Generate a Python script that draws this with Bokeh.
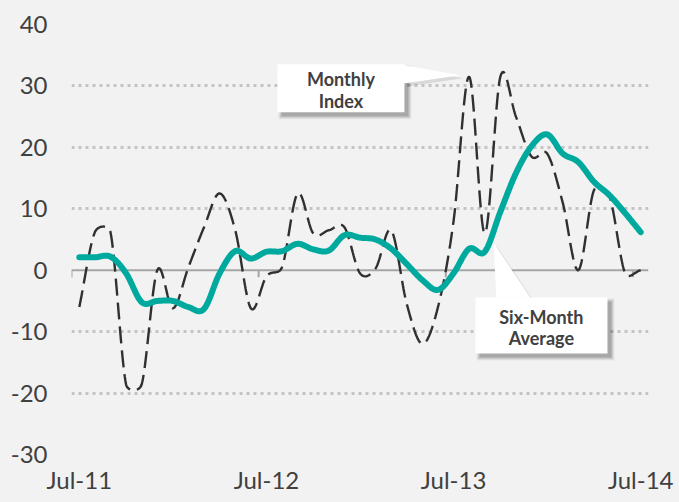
import numpy as np
from bokeh.plotting import figure
from bokeh.models import Range1d, FixedTicker, Span
from bokeh.core.properties import value
from bokeh.embed import file_html
from bokeh.resources import INLINE

# ---------------- data ----------------
month_labels = [
    "Jul-11", "Aug-11", "Sep-11", "Oct-11", "Nov-11", "Dec-11",
    "Jan-12", "Feb-12", "Mar-12", "Apr-12", "May-12", "Jun-12",
    "Jul-12", "Aug-12", "Sep-12", "Oct-12", "Nov-12", "Dec-12",
    "Jan-13", "Feb-13", "Mar-13", "Apr-13", "May-13", "Jun-13",
    "Jul-13", "Aug-13", "Sep-13", "Oct-13", "Nov-13", "Dec-13",
    "Jan-14", "Feb-14", "Mar-14", "Apr-14", "May-14", "Jun-14",
    "Jul-14",
]
monthly_index = [
    -6.0, 6.2, 6.2, -18.6, -18.6, 0.0,
    -6.2, 0.5, 7.0, 12.5, 6.5, -6.2,
    -1.0, 0.5, 12.5, 6.0, 6.5, 7.0,
    -0.5, 0.3, 6.5, -5.5, -12.0, -6.0,
    8.0, 31.5, 6.0, 31.5, 25.0, 18.5,
    19.0, 11.0, 0.0, 13.0, 12.0, -0.5,
    0.0,
]
six_month_avg = [
    2.1, 2.1, 2.2, -0.5, -5.2, -5.0,
    -5.0, -6.0, -6.3, -0.5, 3.1, 1.9,
    3.0, 3.1, 4.3, 3.4, 3.2, 5.7,
    5.3, 5.0, 3.5, 1.0, -1.6, -3.2,
    -0.5, 3.5, 3.0, 9.5, 15.8, 20.2,
    22.1, 19.0, 17.6, 14.4, 12.2, 9.3,
    6.2,
]
y_ticks = [-30, -20, -10, 0, 10, 20, 30, 40]
x_tick_labels = ["Jul-11", "Jul-12", "Jul-13", "Jul-14"]

# ---------------- helpers ----------------
x_idx = list(range(len(month_labels)))
x_ticks = [month_labels.index(l) for l in x_tick_labels]

PX_PER_X = 577 / 37.0   # frame pixels per x unit
PX_PER_Y = 430 / 70.0   # frame pixels per y unit


def smooth(xs, ys, n=24):
    """Excel-like smoothed line: Bezier with tension 1/6, control arms capped
    at half the adjacent segment length (measured on screen)."""
    P = np.column_stack([np.asarray(xs, float) * PX_PER_X,
                         np.asarray(ys, float) * PX_PER_Y])
    N = len(P)
    cout = np.zeros_like(P)
    cin = np.zeros_like(P)
    for i in range(N):
        a = P[max(i - 1, 0)]
        b = P[min(i + 1, N - 1)]
        T = b - a
        L = np.hypot(*T)
        if L == 0:
            cout[i] = cin[i] = P[i]
            continue
        d_prev = np.hypot(*(P[i] - a)) if i > 0 else 0.0
        d_next = np.hypot(*(b - P[i])) if i < N - 1 else 0.0
        u = T / L
        arm = L / 6
        if i == 0 or i == N - 1:
            arm = L / 3
        cout[i] = P[i] + u * min(arm, d_next / 2)
        cin[i] = P[i] - u * min(arm, d_prev / 2)
    t = np.linspace(0, 1, n, endpoint=False)[:, None]
    pts = []
    for i in range(N - 1):
        p0, p1, p2, p3 = P[i], cout[i], cin[i + 1], P[i + 1]
        seg = ((1 - t) ** 3) * p0 + 3 * ((1 - t) ** 2) * t * p1 \
            + 3 * (1 - t) * t ** 2 * p2 + t ** 3 * p3
        pts.append(seg)
    pts.append(P[-1][None, :])
    pts = np.vstack(pts)
    return list(pts[:, 0] / PX_PER_X), list(pts[:, 1] / PX_PER_Y)


FONT = "Lato"
TXT = "#404040"
BG = "#f2f2f2"

p = figure(width=679, height=502, output_backend="svg", toolbar_location=None,
           x_range=Range1d(-0.5, len(x_idx) - 0.5), y_range=Range1d(-30, 40),
           background_fill_color=BG, border_fill_color=BG, outline_line_color=None)
p.min_border_left = 71
p.min_border_right = 31
p.min_border_top = 24
p.min_border_bottom = 48

# axes
p.yaxis.ticker = FixedTicker(ticks=y_ticks)
p.yaxis.major_label_overrides = {t: str(t) for t in y_ticks}
p.xaxis.ticker = FixedTicker(ticks=x_ticks)
p.xaxis.major_label_overrides = {t: l for t, l in zip(x_ticks, x_tick_labels)}
for ax in (p.xaxis[0], p.yaxis[0]):
    ax.axis_line_color = None
    ax.major_tick_line_color = None
    ax.minor_tick_line_color = None
    ax.major_tick_out = 0
    ax.major_tick_in = 0
    ax.major_label_text_font = FONT
    ax.major_label_text_font_size = "24px"
    ax.major_label_text_color = TXT
p.yaxis.major_label_standoff = 24
p.xaxis.major_label_standoff = 10

# grid
p.xgrid.grid_line_color = None
p.ygrid.ticker = FixedTicker(ticks=[t for t in y_ticks if t != 0])
p.ygrid.grid_line_color = "#c4c4c4"
p.ygrid.grid_line_width = 3
p.ygrid.grid_line_dash = "3 4"

zero = Span(location=0, dimension="width", line_color="#a6a6a6", line_width=2,
            level="underlay")
p.add_layout(zero)
tick_marks = [t - 0.5 for t in x_ticks]
p.segment(x0=tick_marks, y0=[0] * len(tick_marks), x1=tick_marks,
          y1=[-1.15] * len(tick_marks), line_color="#a6a6a6", line_width=2)

# series
mx, my = smooth(x_idx, monthly_index)
p.line(mx, my, line_color="#303030", line_width=2.4, line_dash="17 7")
ax_, ay_ = smooth(x_idx, six_month_avg)
p.line(ax_, ay_, line_color="#00a99e", line_width=6, line_join="round",
       line_cap="round")

# ---------------- callouts ----------------
PXX = 1 / PX_PER_X   # data units per pixel (x)
PXY = 1 / PX_PER_Y   # data units per pixel (y)


def callout(box, pointer, lines, line_ys, cx):
    l, r, t, b = box
    # soft shadow
    for k, a in [(3, 0.05), (2, 0.07), (1, 0.09), (0, 0.12)]:
        p.quad(left=[l + (4 - k) * PXX], right=[r + (4 + k) * PXX],
               top=[t - (4 - k) * PXY], bottom=[b - (4 + k) * PXY],
               fill_color="#000000", fill_alpha=a, line_color=None)
    px_, py_ = pointer
    p.patch([v + 3 * PXX for v in px_], [v - 3 * PXY for v in py_],
            fill_color="#000000", fill_alpha=0.10, line_color=None)
    p.patch(px_, py_, fill_color="white", line_color=None)
    p.quad(left=[l], right=[r], top=[t], bottom=[b], fill_color="white",
           line_color=None)
    for txt, yy in zip(lines, line_ys):
        p.text(x=[cx], y=[yy], text=[txt], text_align="center",
               text_baseline="middle", text_font=value(FONT),
               text_font_style="bold", text_font_size="18px", text_color=TXT)


callout((12.71, 20.85, 33.53, 25.72),
        ([20.80, 24.44, 20.80], [33.37, 31.74, 30.39]),
        ["Monthly", "Index"], [31.2, 27.5], 16.78)
callout((25.41, 33.87, -4.44, -13.56),
        ([26.75, 26.56, 28.93], [-4.50, 4.51, -4.50]),
        ["Six-Month", "Average"], [-7.54, -11.07], 29.63)

html = file_html(p, INLINE)
html = html.replace(
    "</head>",
    "<style>html,body{margin:0;padding:0;background:#f2f2f2;overflow:hidden}</style></head>",
    1)
open("out.html", "w").write(html)
